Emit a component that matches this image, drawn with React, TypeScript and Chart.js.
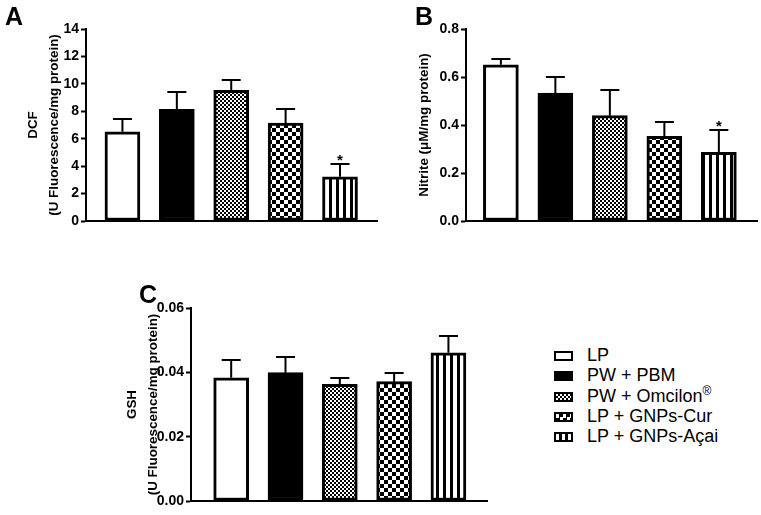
import React, { useEffect, useRef } from 'react';
import { Chart, registerables } from 'chart.js';

Chart.register(...registerables);

// ---------- data ----------
const groups = ['LP', 'PW + PBM', 'PW + Omcilon®', 'LP + GNPs-Cur', 'LP + GNPs-Açai'];
const dcfValues = [6.5, 8.15, 9.53, 7.14, 3.22];
const dcfErrors = [0.95, 1.27, 0.73, 1.0, 0.93];
const nitriteValues = [0.651, 0.533, 0.439, 0.353, 0.286];
const nitriteErrors = [0.024, 0.067, 0.108, 0.058, 0.092];
const gshValues = [0.0383, 0.0399, 0.0363, 0.0371, 0.0461];
const gshErrors = [0.0056, 0.0049, 0.002, 0.0026, 0.0052];
const dcfMarks = ['', '', '', '', '*'];
const nitriteMarks = ['', '', '', '', '*'];
const gshMarks = ['', '', '', '', ''];
const dcfAxis = { max: 14, step: 2, decimals: 0 };
const nitriteAxis = { max: 0.8, step: 0.2, decimals: 1 };
const gshAxis = { max: 0.06, step: 0.02, decimals: 2 };
const dcfTitle = ['DCF', '(U Fluorescence/mg protein)'];
const nitriteTitle = ['Nitrite (μM/mg protein)'];
const gshTitle = ['GSH', '(U Fluorescence/mg protein)'];

const FONT = '"Liberation Sans", Arial, Helvetica, sans-serif';

function makePatterns(ctx: CanvasRenderingContext2D): (string | CanvasPattern)[] {
  const tile = (w: number, h: number, draw: (c: CanvasRenderingContext2D) => void) => {
    const cv = document.createElement('canvas');
    cv.width = w;
    cv.height = h;
    const c = cv.getContext('2d')!;
    c.fillStyle = '#fff';
    c.fillRect(0, 0, w, h);
    c.fillStyle = '#000';
    draw(c);
    return ctx.createPattern(cv, 'repeat')!;
  };
  const fine = tile(4, 4, (c) => {
    c.fillRect(0, 0, 2, 2);
    c.fillRect(2, 2, 2, 2);
  });
  const coarse = tile(8, 8, (c) => {
    c.fillRect(0, 0, 4, 4);
    c.fillRect(4, 4, 4, 4);
  });
  const stripes = tile(7, 4, (c) => {
    c.fillRect(0, 0, 3, 4);
  });
  return ['#ffffff', '#000000', fine, coarse, stripes];
}

function errorBarPlugin(errors: number[], marks: string[]) {
  return {
    id: 'errorBars',
    afterDatasetsDraw(chart: any) {
      const meta = chart.getDatasetMeta(0);
      const ys = chart.scales.y;
      const data = chart.data.datasets[0].data;
      const ctx = chart.ctx as CanvasRenderingContext2D;
      ctx.save();
      ctx.strokeStyle = '#000';
      ctx.lineWidth = 2;
      meta.data.forEach((bar: any, i: number) => {
        const v = data[i].y;
        const top = Math.round(ys.getPixelForValue(v + errors[i]));
        const x = bar.x;
        ctx.beginPath();
        ctx.moveTo(x, bar.y);
        ctx.lineTo(x, top);
        ctx.moveTo(x - 9.5, top);
        ctx.lineTo(x + 9.5, top);
        ctx.stroke();
        if (marks[i]) {
          ctx.fillStyle = '#000';
          ctx.font = `bold 15px ${FONT}`;
          ctx.textAlign = 'center';
          ctx.textBaseline = 'alphabetic';
          ctx.fillText(marks[i], x, top + 1);
        }
      });
      ctx.restore();
    },
  };
}

type PanelProps = {
  left: number;
  top: number;
  width: number;
  height: number;
  area: { left: number; right: number; top: number; bottom: number };
  xRange: [number, number];
  values: number[];
  errors: number[];
  marks: string[];
  axis: { max: number; step: number; decimals: number };
  title: string[];
  titleOffset: number;
};

function Panel(p: PanelProps) {
  const ref = useRef<HTMLCanvasElement | null>(null);
  useEffect(() => {
    const canvas = ref.current!;
    const ctx = canvas.getContext('2d')!;
    const patterns = makePatterns(ctx);
    const chart = new Chart(ctx, {
      type: 'bar',
      data: {
        labels: groups,
        datasets: [
          {
            label: 'values',
            data: p.values.map((v, i) => ({ x: i, y: v })),
            backgroundColor: patterns as any,
            borderColor: '#000',
            borderWidth: 3,
            borderSkipped: false,
            barThickness: 35,
          } as any,
        ],
      },
      options: {
        responsive: false,
        animation: false,
        events: [],
        layout: {
          padding: {
            left: 0,
            top: p.area.top,
            right: p.width - p.area.right,
            bottom: p.height - p.area.bottom,
          },
        },
        plugins: {
          legend: { display: false },
          tooltip: { enabled: false },
          title: { display: false },
        },
        scales: {
          x: {
            type: 'linear',
            min: p.xRange[0],
            max: p.xRange[1],
            offset: false,
            grid: { display: false },
            ticks: { display: false },
            border: { display: true, color: '#000', width: 2 },
            afterFit: (s: any) => {
              s.height = 0;
            },
          },
          y: {
            type: 'linear',
            min: 0,
            max: p.axis.max,
            ticks: {
              stepSize: p.axis.step,
              color: '#000',
              padding: 2,
              font: { family: FONT, size: 14, weight: 'bold' },
              callback: (v: any) => Number(v).toFixed(p.axis.decimals),
            },
            grid: {
              display: true,
              drawOnChartArea: false,
              drawTicks: true,
              tickLength: 5,
              tickWidth: 2,
              tickColor: '#000',
            },
            border: { display: true, color: '#000', width: 2 },
            title: {
              display: true,
              text: p.title,
              color: '#000',
              font: { family: FONT, size: 13.4, weight: 'bold', lineHeight: 1.55 },
              padding: { top: p.titleOffset, bottom: 0 },
            },
            afterFit: (s: any) => {
              s.width = p.area.left;
            },
          },
        } as any,
      },
      plugins: [errorBarPlugin(p.errors, p.marks)],
    });
    return () => chart.destroy();
  }, []);
  return (
    <canvas
      ref={ref}
      width={p.width}
      height={p.height}
      style={{ position: 'absolute', left: p.left, top: p.top, width: p.width, height: p.height }}
    />
  );
}

const swatchStyles: React.CSSProperties[] = [
  { background: '#fff' },
  { background: '#000' },
  { background: 'repeating-conic-gradient(#000 0% 25%, #fff 0% 50%) 0 0 / 4px 4px' },
  { background: 'repeating-conic-gradient(#000 0% 25%, #fff 0% 50%) 0 0 / 7px 7px' },
  { background: 'repeating-linear-gradient(90deg, #fff 0px, #fff 3px, #000 3px, #000 6px)' },
];

function LegendLabel({ text }: { text: string }) {
  if (text.endsWith('®')) {
    return (
      <>
        {text.slice(0, -1)}
        <sup style={{ fontSize: 12, verticalAlign: 0, position: 'relative', top: -7 }}>®</sup>
      </>
    );
  }
  return <>{text}</>;
}

export default function App() {
  const letterStyle: React.CSSProperties = {
    position: 'absolute',
    fontFamily: FONT,
    fontWeight: 'bold',
    fontSize: 25,
    lineHeight: '25px',
    color: '#000',
  };
  return (
    <div
      style={{
        position: 'fixed',
        left: 0,
        top: 0,
        width: 761,
        height: 515,
        background: '#fff',
        overflow: 'hidden',
      }}
    >
      <Panel
        left={0}
        top={0}
        width={380}
        height={240}
        area={{ left: 86, right: 377, top: 29, bottom: 221 }}
        xRange={[-0.67, 4.68]}
        values={dcfValues}
        errors={dcfErrors}
        marks={dcfMarks}
        axis={dcfAxis}
        title={dcfTitle}
        titleOffset={23}
      />
      <Panel
        left={380}
        top={0}
        width={381}
        height={240}
        area={{ left: 86, right: 377, top: 29, bottom: 221 }}
        xRange={[-0.64, 4.7]}
        values={nitriteValues}
        errors={nitriteErrors}
        marks={nitriteMarks}
        axis={nitriteAxis}
        title={nitriteTitle}
        titleOffset={34}
      />
      <Panel
        left={100}
        top={260}
        width={400}
        height={255}
        area={{ left: 91, right: 387, top: 48, bottom: 241 }}
        xRange={[-0.74, 4.71]}
        values={gshValues}
        errors={gshErrors}
        marks={gshMarks}
        axis={gshAxis}
        title={gshTitle}
        titleOffset={22}
      />
      <div style={{ ...letterStyle, left: 5, top: 4 }}>A</div>
      <div style={{ ...letterStyle, left: 415, top: 4 }}>B</div>
      <div style={{ ...letterStyle, left: 139, top: 282 }}>C</div>
      {groups.map((g, i) => {
        const baseline = 362 + i * 20.3;
        return (
          <React.Fragment key={g}>
            <div
              style={{
                position: 'absolute',
                left: 554,
                top: baseline - 11,
                width: 19,
                height: 10,
                boxSizing: 'border-box',
                border: '2px solid #000',
                ...swatchStyles[i],
              }}
            />
            <div
              style={{
                position: 'absolute',
                left: 587,
                top: baseline - 17,
                fontFamily: FONT,
                fontSize: 18,
                lineHeight: '20px',
                color: '#000',
                whiteSpace: 'nowrap',
              }}
            >
              <LegendLabel text={g} />
            </div>
          </React.Fragment>
        );
      })}
    </div>
  );
}
